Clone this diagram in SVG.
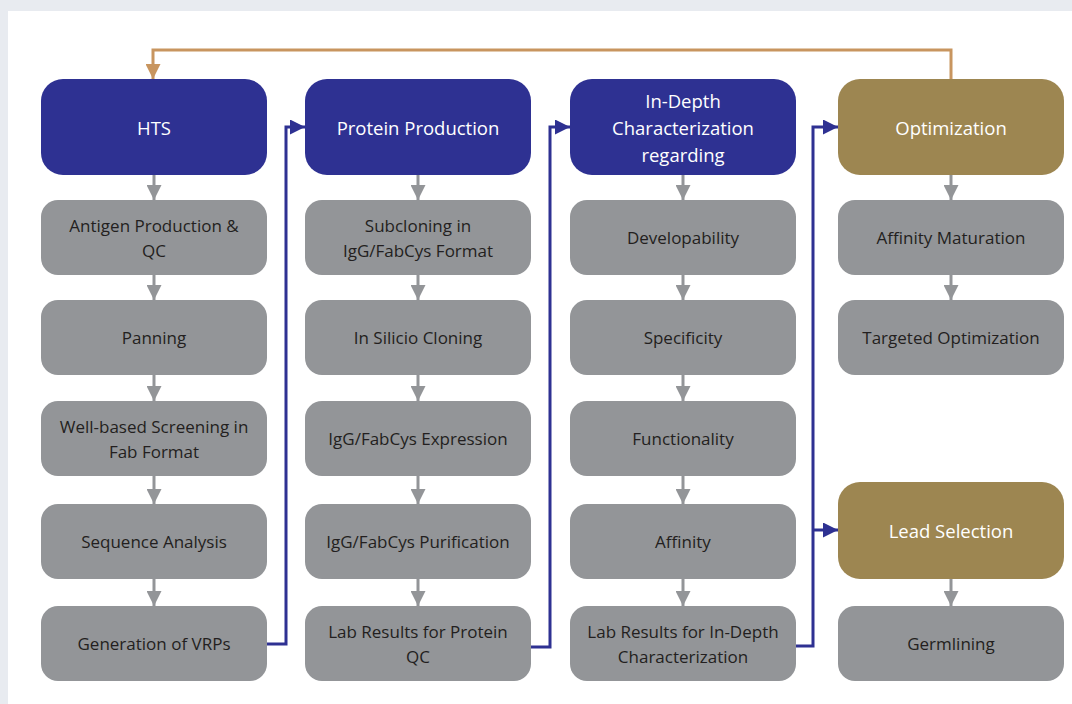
<svg xmlns="http://www.w3.org/2000/svg" width="1072" height="704" viewBox="0 0 1072 704">
<defs>
<style>
.hb{fill:#2e3192}
.hg{fill:#9d8651}
.gb{fill:#939598}
.th{font-family:"Open Sans","Liberation Sans",sans-serif;font-size:18.5px;fill:#ffffff;text-anchor:middle;dominant-baseline:central}
.tg{font-family:"Open Sans","Liberation Sans",sans-serif;font-size:17px;fill:#231f20;text-anchor:middle;dominant-baseline:central}
.ga{stroke:#939598;stroke-width:3;fill:none}
.bl{stroke:#2e3192;stroke-width:3;fill:none}
.or{stroke:#c8955f;stroke-width:3;fill:none}
</style>
<marker id="mg" viewBox="0 0 10 10" refX="10" refY="5" markerWidth="5" markerHeight="5" markerUnits="strokeWidth" orient="auto"><path d="M0,0L10,5L0,10z" fill="#939598"/></marker>
<marker id="mb" viewBox="0 0 10 10" refX="10" refY="5" markerWidth="5" markerHeight="5" markerUnits="strokeWidth" orient="auto"><path d="M0,0L10,5L0,10z" fill="#2e3192"/></marker>
<marker id="mo" viewBox="0 0 10 10" refX="10" refY="5" markerWidth="5" markerHeight="5" markerUnits="strokeWidth" orient="auto"><path d="M0,0L10,5L0,10z" fill="#c8955f"/></marker>
</defs>
<rect x="0" y="0" width="1072" height="704" fill="#e8ebf0"/>
<rect x="8" y="11" width="1064" height="693" fill="#ffffff"/>

<g id="connectors">
<path class="or" d="M951,79V50H153V79" marker-end="url(#mo)"/>
<path class="ga" d="M154,175V200" marker-end="url(#mg)"/>
<path class="ga" d="M154,275V300" marker-end="url(#mg)"/>
<path class="ga" d="M154,375V401" marker-end="url(#mg)"/>
<path class="ga" d="M154,476V504" marker-end="url(#mg)"/>
<path class="ga" d="M154,579V606" marker-end="url(#mg)"/>
<path class="ga" d="M418,175V200" marker-end="url(#mg)"/>
<path class="ga" d="M418,275V300" marker-end="url(#mg)"/>
<path class="ga" d="M418,375V401" marker-end="url(#mg)"/>
<path class="ga" d="M418,476V504" marker-end="url(#mg)"/>
<path class="ga" d="M418,579V606" marker-end="url(#mg)"/>
<path class="ga" d="M683,175V200" marker-end="url(#mg)"/>
<path class="ga" d="M683,275V300" marker-end="url(#mg)"/>
<path class="ga" d="M683,375V401" marker-end="url(#mg)"/>
<path class="ga" d="M683,476V504" marker-end="url(#mg)"/>
<path class="ga" d="M683,579V606" marker-end="url(#mg)"/>
<path class="ga" d="M951,175V200" marker-end="url(#mg)"/>
<path class="ga" d="M951,275V300" marker-end="url(#mg)"/>
<path class="ga" d="M951,579V606" marker-end="url(#mg)"/>
<path class="bl" d="M267,644H286V127H305" marker-end="url(#mb)"/>
<path class="bl" d="M531,647H550V127H570" marker-end="url(#mb)"/>
<path class="bl" d="M796,646H813V127H838" marker-end="url(#mb)"/>
<path class="bl" d="M813,530H838" marker-end="url(#mb)"/>
</g>

<g id="hts"><rect class="hb" x="41" y="79" width="226" height="96" rx="22"/><text class="th" x="154" y="127">HTS</text></g>
<g id="antigen"><rect class="gb" x="41" y="200" width="226" height="75" rx="17"/><text class="tg" x="154" y="225">Antigen Production &amp;</text><text class="tg" x="154" y="250">QC</text></g>
<g id="panning"><rect class="gb" x="41" y="300" width="226" height="75" rx="17"/><text class="tg" x="154" y="337">Panning</text></g>
<g id="wellbased"><rect class="gb" x="41" y="401" width="226" height="75" rx="17"/><text class="tg" x="154" y="426">Well-based Screening in</text><text class="tg" x="154" y="451">Fab Format</text></g>
<g id="sequence"><rect class="gb" x="41" y="504" width="226" height="75" rx="17"/><text class="tg" x="154" y="541">Sequence Analysis</text></g>
<g id="vrps"><rect class="gb" x="41" y="606" width="226" height="75" rx="17"/><text class="tg" x="154" y="643">Generation of VRPs</text></g>

<g id="protein"><rect class="hb" x="305" y="79" width="226" height="96" rx="22"/><text class="th" x="418" y="127">Protein Production</text></g>
<g id="subcloning"><rect class="gb" x="305" y="200" width="226" height="75" rx="17"/><text class="tg" x="418" y="225">Subcloning in</text><text class="tg" x="418" y="250">IgG/FabCys Format</text></g>
<g id="insilico"><rect class="gb" x="305" y="300" width="226" height="75" rx="17"/><text class="tg" x="418" y="337">In Silicio Cloning</text></g>
<g id="expression"><rect class="gb" x="305" y="401" width="226" height="75" rx="17"/><text class="tg" x="418" y="438">IgG/FabCys Expression</text></g>
<g id="purification"><rect class="gb" x="305" y="504" width="226" height="75" rx="17"/><text class="tg" x="418" y="541">IgG/FabCys Purification</text></g>
<g id="labprotein"><rect class="gb" x="305" y="606" width="226" height="75" rx="17"/><text class="tg" x="418" y="631">Lab Results for Protein</text><text class="tg" x="418" y="656">QC</text></g>

<g id="indepth"><rect class="hb" x="570" y="79" width="226" height="96" rx="22"/><text class="th" x="683" y="100">In-Depth</text><text class="th" x="683" y="127">Characterization</text><text class="th" x="683" y="154">regarding</text></g>
<g id="developability"><rect class="gb" x="570" y="200" width="226" height="75" rx="17"/><text class="tg" x="683" y="237">Developability</text></g>
<g id="specificity"><rect class="gb" x="570" y="300" width="226" height="75" rx="17"/><text class="tg" x="683" y="337">Specificity</text></g>
<g id="functionality"><rect class="gb" x="570" y="401" width="226" height="75" rx="17"/><text class="tg" x="683" y="438">Functionality</text></g>
<g id="affinity"><rect class="gb" x="570" y="504" width="226" height="75" rx="17"/><text class="tg" x="683" y="541">Affinity</text></g>
<g id="labindepth"><rect class="gb" x="570" y="606" width="226" height="75" rx="17"/><text class="tg" x="683" y="631">Lab Results for In-Depth</text><text class="tg" x="683" y="656">Characterization</text></g>

<g id="optimization"><rect class="hg" x="838" y="79" width="226" height="96" rx="22"/><text class="th" x="951" y="127">Optimization</text></g>
<g id="maturation"><rect class="gb" x="838" y="200" width="226" height="75" rx="17"/><text class="tg" x="951" y="237">Affinity Maturation</text></g>
<g id="targeted"><rect class="gb" x="838" y="300" width="226" height="75" rx="17"/><text class="tg" x="951" y="337">Targeted Optimization</text></g>
<g id="lead"><rect class="hg" x="838" y="482" width="226" height="97" rx="22"/><text class="th" x="951" y="530">Lead Selection</text></g>
<g id="germlining"><rect class="gb" x="838" y="606" width="226" height="75" rx="17"/><text class="tg" x="951" y="643">Germlining</text></g>
</svg>
